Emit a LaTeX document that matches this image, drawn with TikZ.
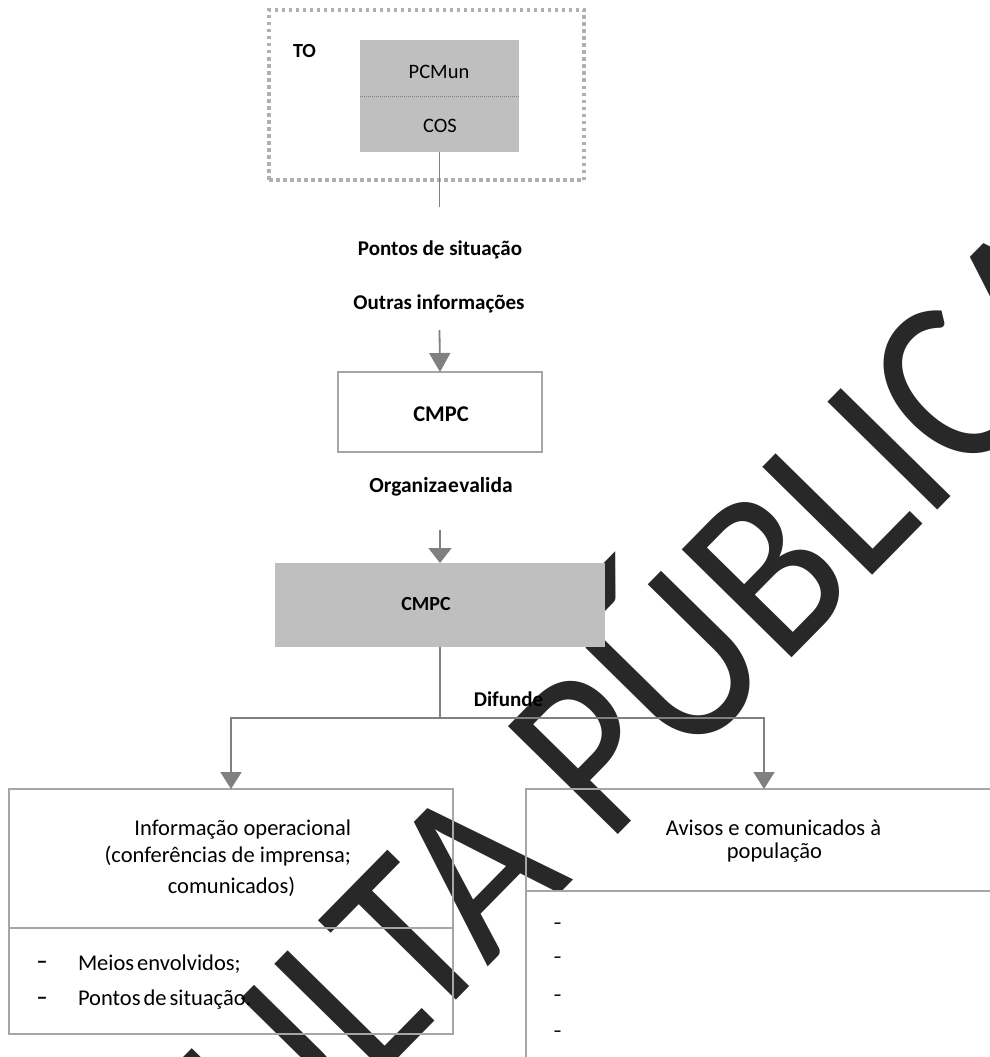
\documentclass[tikz,border=0pt]{standalone}
\usepackage{fontspec}
\usepackage{graphicx}
\setmainfont{Carlito}
\usetikzlibrary{arrows.meta}
\definecolor{boxgray}{HTML}{BFBFBF}
\definecolor{linegray}{HTML}{808080}
\definecolor{framegray}{HTML}{A6A6A6}
\definecolor{dotgray}{HTML}{B0B0B0}
\definecolor{markink}{HTML}{282828}
\newcommand{\setfs}[1]{\fontsize{#1}{#1}\selectfont}
\newcommand{\tightwords}[2]{{\spaceskip=#1\relax #2}}

\begin{document}
\begin{tikzpicture}[x=1pt,y=-1pt,
  lbl/.style={inner sep=0pt, outer sep=0pt, font=\bfseries\setfs{21}},
  txt/.style={inner sep=0pt, outer sep=0pt, font=\setfs{22.5}},
  bulletdash/.style={inner sep=0pt, outer sep=0pt, anchor=base, font=\bfseries\setfs{#1}},
  shapebox/.style={inner sep=0pt, outer sep=0pt},
  frame/.style={shapebox, draw=framegray, line width=1.8pt},
  conn/.style={draw=linegray, line width=1.8pt},
  arr/.style={conn, -{Triangle[width=21pt,length=17pt]}},
  stampfont/.style={inner sep=0pt, outer sep=0pt, text=markink, font=\setfs{240}}
]
\useasboundingbox (0,0) rectangle (990,1057);

% stamp across the sheet
\begin{scope}
  \clip (0,0) rectangle (990,1057);
  \node[stampfont, rotate=45.5, anchor=base] (stamp) at (532.5,922)
    {\scalebox{0.89}[1]{CONSULTA PÚBLICA}};
\end{scope}

% TO group
\node[shapebox, draw=dotgray, line width=3.5pt, dash pattern=on 3.5pt off 3.5pt,
      minimum width=315pt, minimum height=170pt] (to) at (426.5,95) {};
\node[lbl, font=\bfseries\setfs{20}, anchor=base] (tolabel) at (304.5,57) {TO};
\node[shapebox, fill=boxgray, minimum width=159pt, minimum height=56pt] (pcmun) at (439.5,68) {};
\node[shapebox, fill=boxgray, minimum width=159pt, minimum height=56pt] (cos) at (439.5,124) {};
\draw[draw=linegray, line width=0.8pt, dash pattern=on 1pt off 1pt] (pcmun.south west) -- (pcmun.south east);
\node[txt, font=\setfs{20.5}, anchor=base] (pcmuntext) at (439,78) {PCMun};
\node[txt, font=\setfs{20.5}, anchor=base] (costext) at (440,132) {COS};

% flow labels
\coordinate (tail1) at (439.5,207);
\draw[conn] (cos.south) -- (tail1);
\node[lbl, anchor=base] (pontos) at (440,255) {Pontos de situação};
\node[lbl, anchor=base] (outras) at (439,309) {Outras informações};

% first CMPC
\node[frame, line width=2.4pt, minimum width=204pt, minimum height=80pt] (cmpcA) at (440,412) {};
\node[lbl, font=\bfseries\setfs{22.5}, anchor=base] (cmpcAtext) at (441,421) {CMPC};
\coordinate (head1) at (439.5,330);
\draw[arr, -{Triangle[width=21pt,length=19pt]}] (head1) -- (cmpcA.north);

\node[lbl, font=\bfseries\setfs{21.5}, anchor=base] (organiza) at (441,492) {\tightwords{0.6pt}{Organiza e valida}};

% second CMPC
\node[shapebox, fill=boxgray, minimum width=330pt, minimum height=84pt] (cmpcB) at (440,605) {};
\node[lbl, font=\bfseries\setfs{20}, anchor=base] (cmpcBtext) at (426,610) {CMPC};
\coordinate (head2) at (440,530);
\draw[arr, -{Triangle[width=23pt,length=15pt]}] (head2) -- (cmpcB.north);

% output boxes
\node[frame, minimum width=444pt, minimum height=139pt] (leftTop) at (231,858.5) {};
\node[frame, minimum width=444pt, minimum height=106pt] (leftBot) at (231,981) {};
\node[frame, minimum width=476pt, minimum height=102pt] (rightTop) at (764,840) {};
\node[frame, minimum width=476pt, minimum height=189pt] (rightBot) at (764,985.5) {};

% distribution
\coordinate (split) at (440,718);
\draw[conn] (cmpcB.south) -- (split);
\draw[arr] (split) -| (leftTop.north);
\draw[arr] (split) -| (rightTop.north);
\node[lbl, anchor=base] (difunde) at (508.5,706) {Difunde};

% left box texts
\node[txt, anchor=base east] (inf1) at (351,835) {Informação operacional};
\node[txt, anchor=base east] (inf2) at (351,862) {(conferências de imprensa;};
\node[txt, anchor=base] (inf3) at (231.5,893) {comunicados)};
\node[bulletdash=22] (dashA) at (42,968) {–};
\node[bulletdash=22] (dashB) at (42,1004) {–};
\node[txt, anchor=base west] (meios) at (78,970) {\tightwords{3pt}{Meios envolvidos;}};
\node[txt, anchor=base west] (pontosb) at (78,1005) {\tightwords{3pt}{Pontos de situação.}};

% right box texts
\node[txt, anchor=base] (av1) at (773.5,835) {Avisos e comunicados à};
\node[txt, anchor=base] (av2) at (774.5,858) {população};
\node[bulletdash=17] (dashC) at (557.5,928.5) {–};
\node[bulletdash=17] (dashD) at (557.5,962.5) {–};
\node[bulletdash=17] (dashE) at (557.5,1000.5) {–};
\node[bulletdash=17] (dashF) at (557.5,1036.5) {–};
\end{tikzpicture}
\end{document}
